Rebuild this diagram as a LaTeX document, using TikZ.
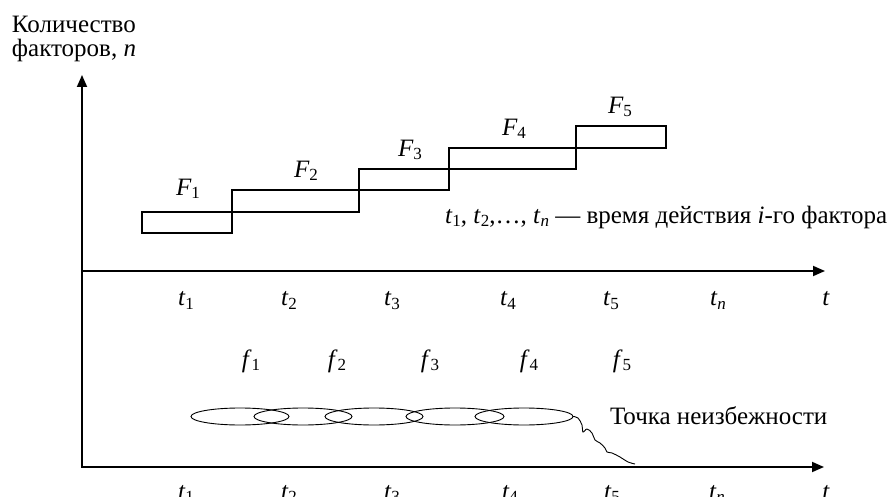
\documentclass[tikz,border=0pt]{standalone}
\usepackage{fontspec}
\setmainfont{Liberation Serif}
\usetikzlibrary{arrows.meta,shapes.geometric}
\newcommand\subx[2]{\textit{#1}\raisebox{-0.12em}{\fontsize{17}{17}\selectfont #2}}
\begin{document}
\begin{tikzpicture}[x=1pt,y=-1pt,
  every node/.style={font=\fontsize{25}{29}\selectfont, inner sep=0pt, outer sep=0pt},
  axisline/.style={line width=1.8pt, line join=miter},
  tip/.style={-{Triangle[length=12pt,width=10pt]}},
  factorbox/.style={line width=1.2pt},
  oval/.style={draw, ellipse, line width=0.9pt, minimum width=98pt, minimum height=17pt},
  lbl/.style={anchor=base}]
\useasboundingbox (0,0) rectangle (887,497);

% axes
\coordinate (ytop) at (82,75);
\coordinate (orig) at (82,467);
\coordinate (xend) at (824,467);
\coordinate (uax0) at (82,271);
\coordinate (uax1) at (825,271);
\draw[axisline,{Triangle[length=12pt,width=10pt]}-{Triangle[length=12pt,width=10pt]}] (ytop) -- (orig) -- (xend);
\draw[axisline,tip] (uax0) -- (uax1);

% y-axis label
\node[anchor=base west] (ylab1) at (12,33) {Количество};
\node[anchor=base west] (ylab2) at (12,57) {факторов, \textit{n}};

% factor rectangles
\draw[factorbox] (142,212) rectangle (232,233);
\draw[factorbox] (232,190) rectangle (359,212);
\draw[factorbox] (359,169) rectangle (449,190);
\draw[factorbox] (449,148) rectangle (576,169);
\draw[factorbox] (576,126) rectangle (666,148);

\node[lbl] (F1) at (188,196) {\subx{F}{1}};
\node[lbl] (F2) at (306,178) {\subx{F}{2}};
\node[lbl] (F3) at (410,157) {\subx{F}{3}};
\node[lbl] (F4) at (514,136) {\subx{F}{4}};
\node[lbl] (F5) at (620,114) {\subx{F}{5}};

\node[anchor=base west] (desc) at (445,224) {\subx{t}{1}, \subx{t}{2},\dots, \subx{t}{\textit{n}} — время действия \textit{i}-го фактора};

% upper tick labels
\node[lbl] (ua1) at (186,306) {\subx{t}{1}};
\node[lbl] (ua2) at (289,306) {\subx{t}{2}};
\node[lbl] (ua3) at (392,306) {\subx{t}{3}};
\node[lbl] (ua4) at (508,306) {\subx{t}{4}};
\node[lbl] (ua5) at (611,306) {\subx{t}{5}};
\node[lbl] (uan) at (718,306) {\subx{t}{\textit{n}}};
\node[lbl] (uat) at (826,306) {\textit{t}};

% f labels
\node[lbl] (f1) at (251,367) {\subx{f}{1}};
\node[lbl] (f2) at (337,367) {\subx{f}{2}};
\node[lbl] (f3) at (430,367) {\subx{f}{3}};
\node[lbl] (f4) at (529,367) {\subx{f}{4}};
\node[lbl] (f5) at (622,367) {\subx{f}{5}};

% ellipses
\node[oval] (e1) at (240,416.5) {};
\node[oval] (e2) at (303,416.5) {};
\node[oval] (e3) at (374,416.5) {};
\node[oval] (e4) at (455,416.5) {};
\node[oval] (e5) at (524,416.5) {};

% wavy line to the inevitability point
\coordinate (wend) at (635,464);
\draw[line width=0.9pt] plot[smooth,tension=0.6] coordinates {(e5.east) (578,418) (582,425) (583,432) (587,429) (592,433) (595,440) (600,443) (605,448) (607,452) (612,453) (620,457) (628,462) (wend)};

\node[anchor=base west] (pt) at (610,424) {Точка неизбежности};

% lower tick labels
\node[lbl] (la1) at (186,499) {\subx{t}{1}};
\node[lbl] (la2) at (289,499) {\subx{t}{2}};
\node[lbl] (la3) at (392,499) {\subx{t}{3}};
\node[lbl] (la4) at (510,499) {\subx{t}{4}};
\node[lbl] (la5) at (612,499) {\subx{t}{5}};
\node[lbl] (lan) at (717,499) {\subx{t}{\textit{n}}};
\node[lbl] (lat) at (826,499) {\textit{t}};
\end{tikzpicture}
\end{document}
